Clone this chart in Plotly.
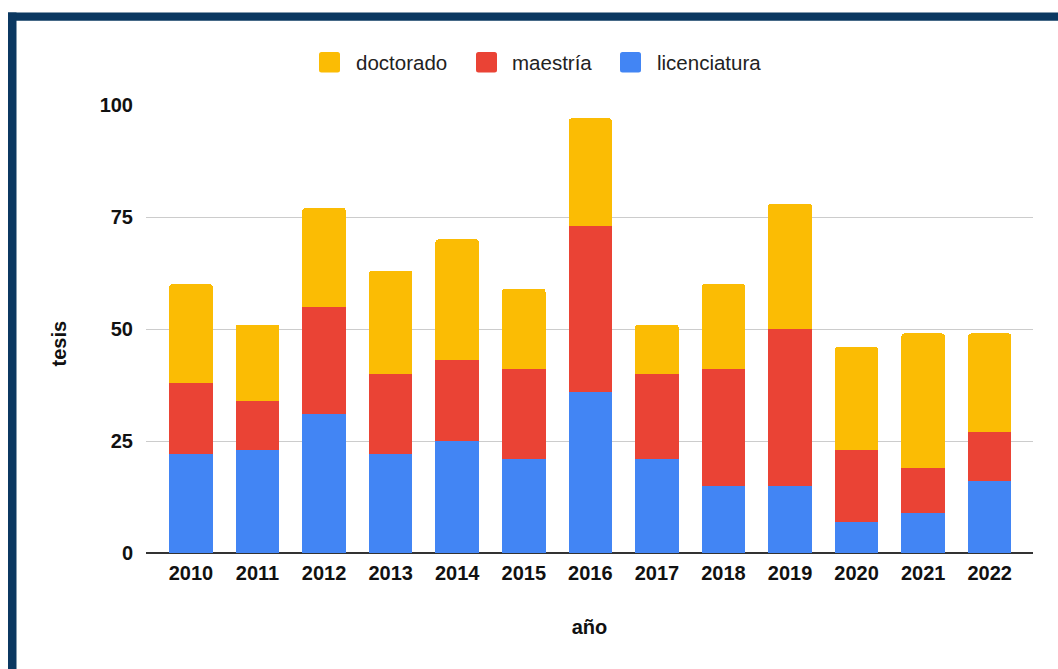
import plotly.graph_objects as go

# Theses per year, split by degree level
years = ["2010", "2011", "2012", "2013", "2014", "2015", "2016",
         "2017", "2018", "2019", "2020", "2021", "2022"]
licenciatura = [22, 23, 31, 22, 25, 21, 36, 21, 15, 15, 7, 9, 16]
maestria = [16, 11, 24, 18, 18, 20, 37, 19, 26, 35, 16, 10, 11]
doctorado = [22, 17, 22, 23, 27, 18, 24, 11, 19, 28, 23, 30, 22]

series_names = ["licenciatura", "maestría", "doctorado"]
series_colors = ["#4285F4", "#EA4335", "#FBBC04"]
y_ticks = [0, 25, 50, 75, 100]

W, H = 1058, 669
M_L, M_R, M_T, M_B = 146, 25, 105, 116
PW, PH = W - M_L - M_R, H - M_T - M_B

FONT = "Liberation Sans, Arial, sans-serif"


def px_x(px):
    return (px - M_L) / PW


def px_y(py):
    return (H - M_B - py) / PH


def rounded_rect(x0, y0, x1, y1, r):
    """Rounded rectangle path in paper coordinates from pixel corners."""
    pts = [
        f"M {px_x(x0 + r)},{px_y(y0)}",
        f"L {px_x(x1 - r)},{px_y(y0)}",
        f"Q {px_x(x1)},{px_y(y0)} {px_x(x1)},{px_y(y0 + r)}",
        f"L {px_x(x1)},{px_y(y1 - r)}",
        f"Q {px_x(x1)},{px_y(y1)} {px_x(x1 - r)},{px_y(y1)}",
        f"L {px_x(x0 + r)},{px_y(y1)}",
        f"Q {px_x(x0)},{px_y(y1)} {px_x(x0)},{px_y(y1 - r)}",
        f"L {px_x(x0)},{px_y(y0 + r)}",
        f"Q {px_x(x0)},{px_y(y0)} {px_x(x0 + r)},{px_y(y0)}",
        "Z",
    ]
    return " ".join(pts)


fig = go.Figure()
for name, vals, color in zip(series_names, [licenciatura, maestria, doctorado], series_colors):
    fig.add_trace(go.Bar(
        x=years, y=vals, name=name,
        marker=dict(color=color, line=dict(width=0)),
        showlegend=False,
        hovertemplate="%{x}<br>" + name + ": %{y}<extra></extra>",
    ))

# Legend row drawn as swatches + labels (order: doctorado, maestría, licenciatura)
legend_items = [
    ("doctorado", "#FBBC04", 319, 354),
    ("maestría", "#EA4335", 476, 510),
    ("licenciatura", "#4285F4", 620, 655),
]
shapes = []
annotations = []
for label, color, sx, tx in legend_items:
    shapes.append(dict(
        type="path", xref="paper", yref="paper",
        path=rounded_rect(sx, 52, sx + 21, 72.5, 2.5),
        fillcolor=color, line=dict(width=0), layer="above",
    ))
    annotations.append(dict(
        text=label, xref="paper", yref="paper",
        x=px_x(tx), y=px_y(62), xanchor="left", yanchor="middle",
        showarrow=False, font=dict(family=FONT, size=20.5, color="#222222"),
    ))

# Y-axis title, placed a little below the plot's vertical centre
annotations.append(dict(
    text="tesis", xref="paper", yref="paper",
    x=px_x(58.5), y=px_y(344), xanchor="center", yanchor="middle",
    textangle=-90, showarrow=False,
    font=dict(family=FONT, size=20, color="#111111", weight="bold"),
))

# Navy frame along the top and left edges
FRAME = "#0B3861"
shapes.append(dict(type="rect", xref="paper", yref="paper",
                   x0=px_x(8), x1=px_x(W + 10), y0=px_y(20.7), y1=px_y(12.5),
                   fillcolor=FRAME, line=dict(width=0), layer="above"))
shapes.append(dict(type="rect", xref="paper", yref="paper",
                   x0=px_x(8), x1=px_x(16.5), y0=px_y(H + 10), y1=px_y(12.5),
                   fillcolor=FRAME, line=dict(width=0), layer="above"))

fig.update_layout(
    width=W, height=H,
    margin=dict(l=M_L, r=M_R, t=M_T, b=M_B, autoexpand=False),
    paper_bgcolor="white", plot_bgcolor="white",
    barmode="stack", bargap=0.347, barcornerradius=3,
    font=dict(family=FONT, color="#000000"),
    shapes=shapes, annotations=annotations,
    xaxis=dict(
        type="category", range=[-0.675, 12.65],
        showgrid=False, zeroline=False, showline=False, ticks="",
        tickfont=dict(family=FONT, size=20, color="#111111", weight="bold"),
        ticklabelstandoff=6,
        title=dict(text="año", standoff=36,
                   font=dict(family=FONT, size=20, color="#111111", weight="bold")),
    ),
    yaxis=dict(
        range=[0, 100], tickvals=y_ticks, ticktext=[str(v) for v in y_ticks],
        showgrid=True, gridcolor="#CCCCCC", gridwidth=1,
        zeroline=True, zerolinecolor="#333333", zerolinewidth=1.5,
        showline=False, ticks="",
        tickfont=dict(family=FONT, size=20, color="#111111", weight="bold"),
        ticklabelstandoff=12,
    ),
)

fig.write_html("out.html")
